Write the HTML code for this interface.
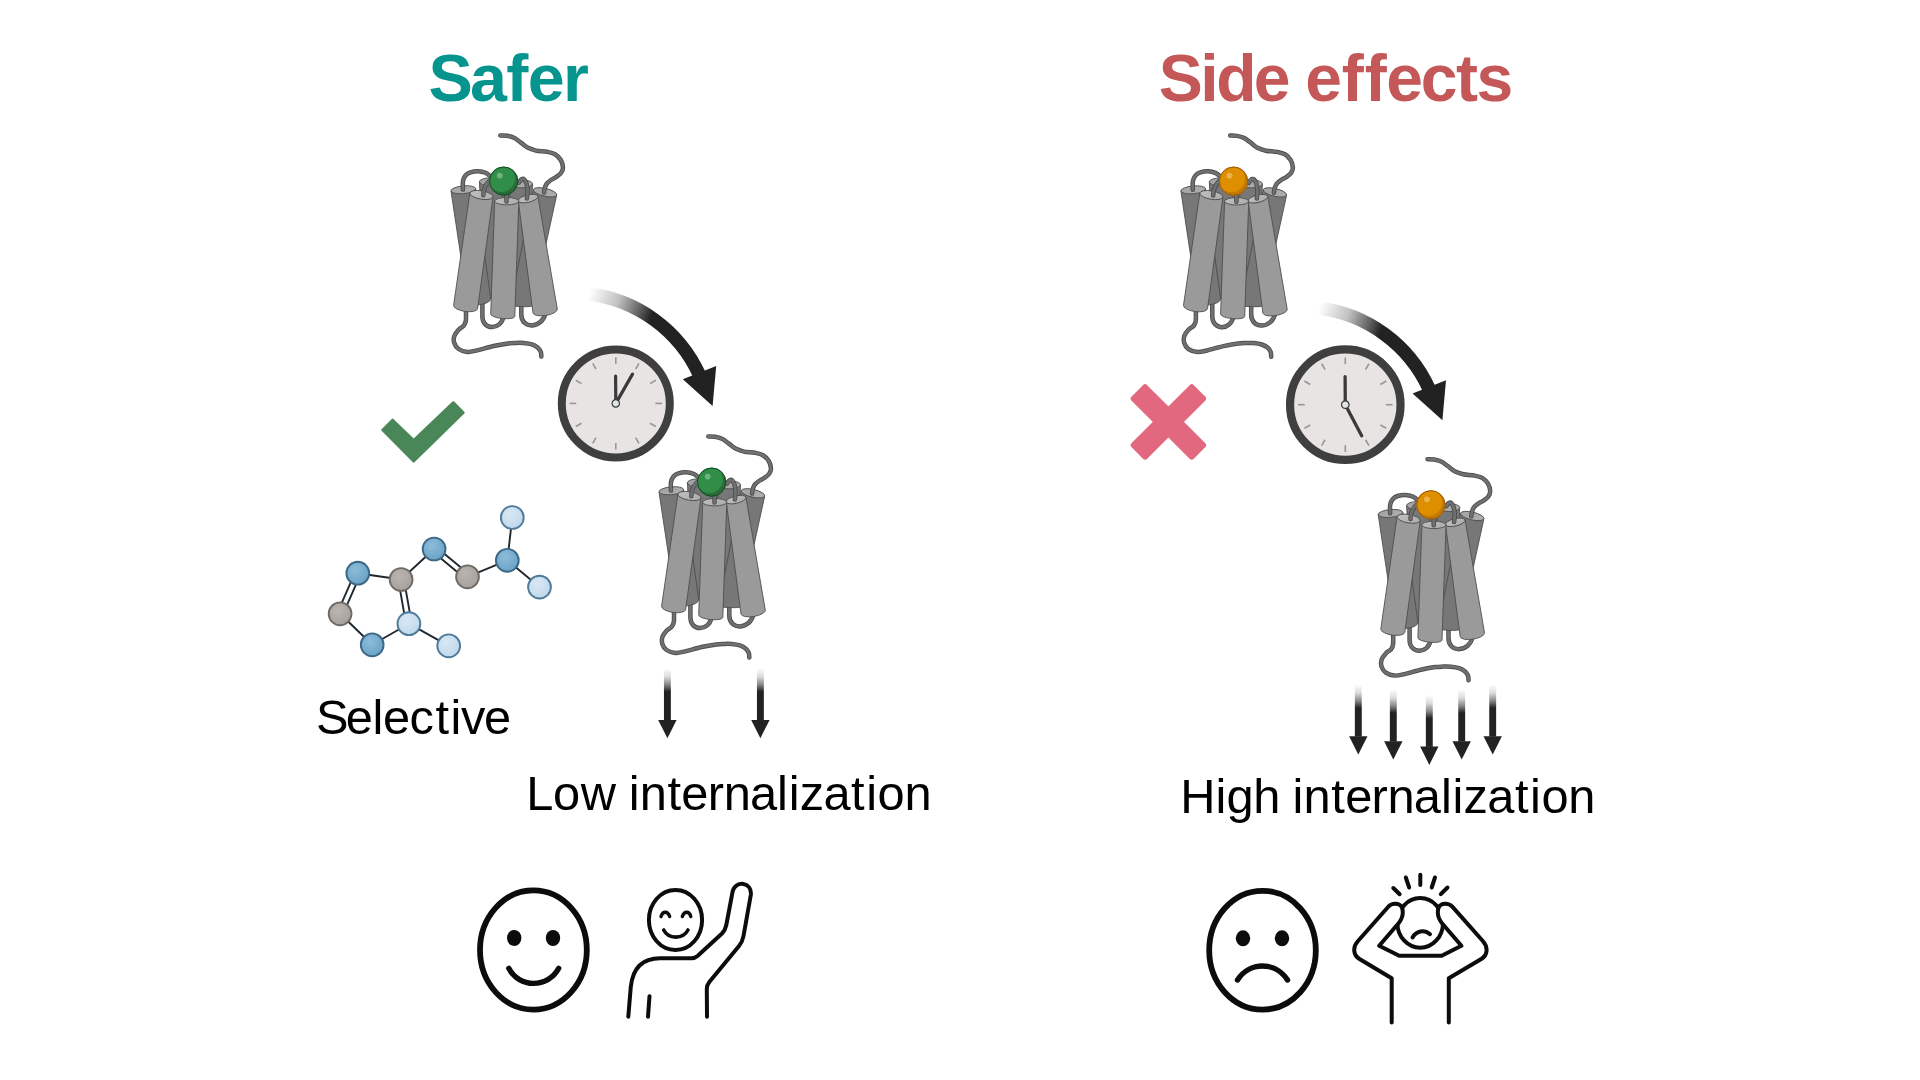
<!DOCTYPE html>
<html lang="en">
<head>
<meta charset="utf-8">
<title>Safer vs Side effects</title>
<style>
html,body{margin:0;padding:0;background:#fff;}
body{width:1920px;height:1080px;overflow:hidden;font-family:"Liberation Sans",sans-serif;}
svg{display:block;position:absolute;left:0;top:0;will-change:transform;}
.t{font-family:"Liberation Sans",sans-serif;}
</style>
</head>
<body>
<svg width="1920" height="1080" viewBox="0 0 1920 1080">
<defs>
  <!-- gradients -->
  <linearGradient id="gArrow" gradientUnits="userSpaceOnUse" x1="588" y1="297" x2="650" y2="320">
    <stop offset="0" stop-color="#222" stop-opacity="0"/>
    <stop offset="0.45" stop-color="#222" stop-opacity="0.28"/>
    <stop offset="0.8" stop-color="#222" stop-opacity="0.72"/>
    <stop offset="1" stop-color="#222" stop-opacity="1"/>
  </linearGradient>
  <linearGradient id="gDown" gradientUnits="objectBoundingBox" x1="0" y1="0" x2="0" y2="1">
    <stop offset="0" stop-color="#222" stop-opacity="0"/>
    <stop offset="0.16" stop-color="#222" stop-opacity="0.16"/>
    <stop offset="0.32" stop-color="#222" stop-opacity="0.56"/>
    <stop offset="0.45" stop-color="#222" stop-opacity="1"/>
    <stop offset="1" stop-color="#222" stop-opacity="1"/>
  </linearGradient>

  <g id="clockface">
    <circle r="54" fill="#e8e4e3" stroke="#3f3f3f" stroke-width="8"/>
    <g stroke="#9b9594" stroke-width="1.6" stroke-linecap="butt"><line x1="0.00" y1="-39.60" x2="0.00" y2="-46.20"/><line x1="19.80" y1="-34.29" x2="23.10" y2="-40.01"/><line x1="34.29" y1="-19.80" x2="40.01" y2="-23.10"/><line x1="39.60" y1="-0.00" x2="46.20" y2="-0.00"/><line x1="34.29" y1="19.80" x2="40.01" y2="23.10"/><line x1="19.80" y1="34.29" x2="23.10" y2="40.01"/><line x1="0.00" y1="39.60" x2="0.00" y2="46.20"/><line x1="-19.80" y1="34.29" x2="-23.10" y2="40.01"/><line x1="-34.29" y1="19.80" x2="-40.01" y2="23.10"/><line x1="-39.60" y1="0.00" x2="-46.20" y2="0.00"/><line x1="-34.29" y1="-19.80" x2="-40.01" y2="-23.10"/><line x1="-19.80" y1="-34.29" x2="-23.10" y2="-40.01"/></g>
  </g>
  <linearGradient id="gTopL" x1="0" y1="0" x2="1" y2="0.6">
    <stop offset="0" stop-color="#c2c2c2"/><stop offset="1" stop-color="#adadad"/>
  </linearGradient>
  <linearGradient id="gTopD" x1="0" y1="0" x2="1" y2="0.6">
    <stop offset="0" stop-color="#a2a2a2"/><stop offset="1" stop-color="#adadad"/>
  </linearGradient>
  <clipPath id="ballclip"><circle cx="0" cy="0" r="14.4"/></clipPath>
  <g id="receptor">
<path d="M482.4 302 L482.4 316.4 C482.4 330.2 501 331.2 503.6 316" fill="none" stroke="#4b4b4b" stroke-width="4.50" stroke-linecap="round" stroke-linejoin="round"/><path d="M482.4 302 L482.4 316.4 C482.4 330.2 501 331.2 503.6 316" fill="none" stroke="#707070" stroke-width="2.80" stroke-linecap="round" stroke-linejoin="round"/>
<path d="M521.3 303 L521.3 314.5 C521.3 329.8 542.5 328.8 545.4 313" fill="none" stroke="#4b4b4b" stroke-width="4.50" stroke-linecap="round" stroke-linejoin="round"/><path d="M521.3 303 L521.3 314.5 C521.3 329.8 542.5 328.8 545.4 313" fill="none" stroke="#707070" stroke-width="2.80" stroke-linecap="round" stroke-linejoin="round"/>
<path d="M465.90 308.00 C465.90 310.05 466.22 317.40 465.90 320.30 C465.58 323.20 465.22 323.83 464.00 325.40 C462.78 326.97 460.20 327.95 458.60 329.70 C457.00 331.45 455.13 333.73 454.40 335.90 C453.67 338.07 453.50 340.52 454.20 342.70 C454.90 344.88 456.40 347.47 458.60 349.00 C460.80 350.53 464.32 351.67 467.40 351.90 C470.48 352.13 472.73 351.38 477.10 350.40 C481.47 349.42 488.42 347.17 493.60 346.00 C498.78 344.83 504.47 343.92 508.20 343.40 C511.93 342.88 513.43 342.97 516.00 342.90 C518.57 342.83 520.97 342.75 523.60 343.00 C526.23 343.25 529.42 343.62 531.80 344.40 C534.18 345.18 536.40 346.45 537.90 347.70 C539.40 348.95 540.23 350.42 540.80 351.90 C541.37 353.38 541.22 355.82 541.30 356.60" fill="none" stroke="#4b4b4b" stroke-width="4.50" stroke-linecap="round" stroke-linejoin="round"/><path d="M465.90 308.00 C465.90 310.05 466.22 317.40 465.90 320.30 C465.58 323.20 465.22 323.83 464.00 325.40 C462.78 326.97 460.20 327.95 458.60 329.70 C457.00 331.45 455.13 333.73 454.40 335.90 C453.67 338.07 453.50 340.52 454.20 342.70 C454.90 344.88 456.40 347.47 458.60 349.00 C460.80 350.53 464.32 351.67 467.40 351.90 C470.48 352.13 472.73 351.38 477.10 350.40 C481.47 349.42 488.42 347.17 493.60 346.00 C498.78 344.83 504.47 343.92 508.20 343.40 C511.93 342.88 513.43 342.97 516.00 342.90 C518.57 342.83 520.97 342.75 523.60 343.00 C526.23 343.25 529.42 343.62 531.80 344.40 C534.18 345.18 536.40 346.45 537.90 347.70 C539.40 348.95 540.23 350.42 540.80 351.90 C541.37 353.38 541.22 355.82 541.30 356.60" fill="none" stroke="#707070" stroke-width="2.80" stroke-linecap="round" stroke-linejoin="round"/>
<path d="M484 184 L530 186 L532 205 L482 205 Z" fill="#777"/>
<path d="M479.40 181.80 L486.00 296.00 A11.00 3.00 0.00 0 0 508.00 296.00 L501.60 181.80 Z" fill="#777777" stroke="#4e4e4e" stroke-width="0.90" stroke-linejoin="round"/><ellipse cx="490.50" cy="181.80" rx="11.10" ry="4.00" transform="rotate(0.00 490.50 181.80)" fill="url(#gTopD)" stroke="#4e4e4e" stroke-width="0.90"/>
<path d="M510.50 183.80 L505.00 303.00 A11.00 3.00 0.00 0 0 527.00 303.00 L532.50 183.80 Z" fill="#777777" stroke="#4e4e4e" stroke-width="0.90" stroke-linejoin="round"/><ellipse cx="521.50" cy="183.80" rx="11.00" ry="4.00" transform="rotate(0.00 521.50 183.80)" fill="url(#gTopD)" stroke="#4e4e4e" stroke-width="0.90"/>
<path d="M533.30 189.60 L510.50 304.50 A11.02 1.50 3.12 0 0 532.50 305.70 L556.70 195.00 Z" fill="#777777" stroke="#4e4e4e" stroke-width="0.90" stroke-linejoin="round"/><ellipse cx="545.00" cy="192.30" rx="12.01" ry="3.90" transform="rotate(12.99 545.00 192.30)" fill="url(#gTopD)" stroke="#4e4e4e" stroke-width="0.90"/>
<path d="M451.00 190.90 L467.50 300.80 A11.65 5.00 -5.42 0 0 490.70 298.60 L475.60 188.60 Z" fill="#777777" stroke="#4e4e4e" stroke-width="0.90" stroke-linejoin="round"/><ellipse cx="463.30" cy="189.75" rx="12.35" ry="3.90" transform="rotate(-5.34 463.30 189.75)" fill="url(#gTopD)" stroke="#4e4e4e" stroke-width="0.90"/>
<path d="M462.90 189.60 C462.92 188.17 462.57 183.35 463.00 181.00 C463.43 178.65 464.25 176.95 465.50 175.50 C466.75 174.05 468.37 173.02 470.50 172.30 C472.63 171.58 475.80 171.12 478.30 171.20 C480.80 171.28 483.47 171.92 485.50 172.80 C487.53 173.68 489.08 175.13 490.50 176.50 C491.92 177.87 493.42 180.25 494.00 181.00" fill="none" stroke="#4b4b4b" stroke-width="4.50" stroke-linecap="round" stroke-linejoin="round"/><path d="M462.90 189.60 C462.92 188.17 462.57 183.35 463.00 181.00 C463.43 178.65 464.25 176.95 465.50 175.50 C466.75 174.05 468.37 173.02 470.50 172.30 C472.63 171.58 475.80 171.12 478.30 171.20 C480.80 171.28 483.47 171.92 485.50 172.80 C487.53 173.68 489.08 175.13 490.50 176.50 C491.92 177.87 493.42 180.25 494.00 181.00" fill="none" stroke="#707070" stroke-width="2.80" stroke-linecap="round" stroke-linejoin="round"/>
<path d="M500.30 135.50 C501.42 135.55 504.73 135.42 507.00 135.80 C509.27 136.18 511.65 136.72 513.90 137.80 C516.15 138.88 518.23 140.67 520.50 142.30 C522.77 143.93 524.92 146.22 527.50 147.60 C530.08 148.98 532.77 149.90 536.00 150.60 C539.23 151.30 543.73 151.20 546.90 151.80 C550.07 152.40 552.68 152.83 555.00 154.20 C557.32 155.57 559.47 157.73 560.80 160.00 C562.13 162.27 562.97 165.63 563.00 167.80 C563.03 169.97 562.05 171.52 561.00 173.00 C559.95 174.48 558.37 175.53 556.70 176.70 C555.03 177.87 552.63 178.87 551.00 180.00 C549.37 181.13 547.93 182.17 546.90 183.50 C545.87 184.83 545.28 186.48 544.80 188.00 C544.32 189.52 544.13 191.83 544.00 192.60" fill="none" stroke="#4b4b4b" stroke-width="4.50" stroke-linecap="round" stroke-linejoin="round"/><path d="M500.30 135.50 C501.42 135.55 504.73 135.42 507.00 135.80 C509.27 136.18 511.65 136.72 513.90 137.80 C516.15 138.88 518.23 140.67 520.50 142.30 C522.77 143.93 524.92 146.22 527.50 147.60 C530.08 148.98 532.77 149.90 536.00 150.60 C539.23 151.30 543.73 151.20 546.90 151.80 C550.07 152.40 552.68 152.83 555.00 154.20 C557.32 155.57 559.47 157.73 560.80 160.00 C562.13 162.27 562.97 165.63 563.00 167.80 C563.03 169.97 562.05 171.52 561.00 173.00 C559.95 174.48 558.37 175.53 556.70 176.70 C555.03 177.87 552.63 178.87 551.00 180.00 C549.37 181.13 547.93 182.17 546.90 183.50 C545.87 184.83 545.28 186.48 544.80 188.00 C544.32 189.52 544.13 191.83 544.00 192.60" fill="none" stroke="#707070" stroke-width="2.80" stroke-linecap="round" stroke-linejoin="round"/>
<path d="M469.90 193.00 L453.60 305.20 A12.12 4.60 8.06 0 0 477.60 308.60 L493.00 197.00 Z" fill="#9a9a9a" stroke="#4e4e4e" stroke-width="0.90" stroke-linejoin="round"/><ellipse cx="481.45" cy="195.00" rx="11.72" ry="4.20" transform="rotate(9.82 481.45 195.00)" fill="url(#gTopL)" stroke="#4e4e4e" stroke-width="0.90"/>
<path d="M518.30 201.00 L533.00 313.00 A12.31 4.60 -9.12 0 0 557.30 309.10 L537.90 196.20 Z" fill="#9a9a9a" stroke="#4e4e4e" stroke-width="0.90" stroke-linejoin="round"/><ellipse cx="528.10" cy="198.60" rx="10.09" ry="3.70" transform="rotate(-13.76 528.10 198.60)" fill="url(#gTopL)" stroke="#4e4e4e" stroke-width="0.90"/>
<path d="M494.70 201.20 L490.70 314.00 A12.11 3.40 5.69 0 0 514.80 316.40 L518.80 201.20 Z" fill="#9a9a9a" stroke="#4e4e4e" stroke-width="0.90" stroke-linejoin="round"/><ellipse cx="506.75" cy="201.20" rx="12.05" ry="3.70" transform="rotate(0.00 506.75 201.20)" fill="url(#gTopL)" stroke="#4e4e4e" stroke-width="0.90"/>
<path d="M483.3 195.3 C483.3 188 485.5 183.5 491 179.5" fill="none" stroke="#4b4b4b" stroke-width="4.50" stroke-linecap="round" stroke-linejoin="round"/><path d="M483.3 195.3 C483.3 188 485.5 183.5 491 179.5" fill="none" stroke="#707070" stroke-width="2.80" stroke-linecap="round" stroke-linejoin="round"/>
<path d="M526.90 198.40 C527.00 197.00 527.60 192.57 527.50 190.00 C527.40 187.43 526.83 184.73 526.30 183.00 C525.77 181.27 524.97 180.28 524.30 179.60 C523.63 178.92 522.92 178.80 522.30 178.90 C521.68 179.00 521.15 179.60 520.60 180.20 C520.05 180.80 519.27 182.12 519.00 182.50" fill="none" stroke="#4b4b4b" stroke-width="4.50" stroke-linecap="round" stroke-linejoin="round"/><path d="M526.90 198.40 C527.00 197.00 527.60 192.57 527.50 190.00 C527.40 187.43 526.83 184.73 526.30 183.00 C525.77 181.27 524.97 180.28 524.30 179.60 C523.63 178.92 522.92 178.80 522.30 178.90 C521.68 179.00 521.15 179.60 520.60 180.20 C520.05 180.80 519.27 182.12 519.00 182.50" fill="none" stroke="#707070" stroke-width="2.80" stroke-linecap="round" stroke-linejoin="round"/>
<path d="M506.5 201.6 L506.5 194" fill="none" stroke="#4b4b4b" stroke-width="4.50" stroke-linecap="round" stroke-linejoin="round"/><path d="M506.5 201.6 L506.5 194" fill="none" stroke="#707070" stroke-width="2.80" stroke-linecap="round" stroke-linejoin="round"/>
  </g>
  <g id="ballG">
    <circle r="14.4" fill="#2d6b3a"/>
    <circle cx="-2.1" cy="-2.5" r="13.4" fill="#318e48" clip-path="url(#ballclip)"/>
    <circle r="14.1" fill="none" stroke="#104d1f" stroke-width="1"/>
    <circle cx="-4" cy="-5.5" r="2.9" fill="#6fb480"/>
  </g>
  <g id="ballO">
    <circle r="14.4" fill="#c37a03"/>
    <circle cx="-2.1" cy="-2.5" r="13.4" fill="#de8f00" clip-path="url(#ballclip)"/>
    <circle r="14.1" fill="none" stroke="#9c5a06" stroke-width="1"/>
    <circle cx="-4" cy="-5.5" r="2.9" fill="#eeb24c"/>
  </g>
  <radialGradient id="gAb" cx="0.4" cy="0.35" r="0.75">
    <stop offset="0" stop-color="#8dbcd9"/><stop offset="1" stop-color="#659fc4"/>
  </radialGradient>
  <radialGradient id="gAg" cx="0.4" cy="0.35" r="0.75">
    <stop offset="0" stop-color="#bab5b1"/><stop offset="1" stop-color="#a39e9a"/>
  </radialGradient>
  <radialGradient id="gAl" cx="0.4" cy="0.35" r="0.75">
    <stop offset="0" stop-color="#d8e8f4"/><stop offset="1" stop-color="#bdd6ea"/>
  </radialGradient>
  
  <g id="darrow">
    <rect x="-3.45" y="0" width="6.9" height="52" fill="url(#gDown)"/>
    <path d="M-9.2 51.6 L9.2 51.6 L0 70 Z" fill="#222"/>
  </g>
  <g id="bigarrow">
    <path d="M589.1 294.0 A140 140 0 0 1 699.4 374.9" fill="none" stroke="url(#gArrow)" stroke-width="13.4"/>
    <path d="M682.8 379.3 L716.2 366 L712.6 406 Z" fill="#222"/>
  </g>
</defs>

<!-- TITLES -->
<text class="t" x="428.56 469.90 506.15 527.74 562.94" y="100.6" font-size="66.43" font-weight="700" fill="#06958e">Safer</text>
<text class="t" x="1158.68 1200.20 1216.13 1253.86 1288.73 1305.20 1341.82 1364.74 1386.23 1420.77 1456.12 1476.49" y="101.3" font-size="66.09" font-weight="700" fill="#c45859">Side effects</text>

<!-- LABELS -->
<text class="t" x="316.00 345.71 372.44 382.88 409.57 435.44 450.50 461.06 483.92" y="734" font-size="48.78" fill="#000">Selective</text>
<text class="t" x="526.27 552.92 580.63 615.49 628.66 639.63 667.55 681.37 707.70 723.67 750.02 777.08 788.77 799.76 823.39 851.11 866.17 877.58 904.56" y="809.5" font-size="48.79" fill="#000">Low internalization</text>
<text class="t" x="1180.22 1215.40 1226.59 1253.33 1279.31 1292.48 1303.44 1331.37 1345.18 1371.51 1387.49 1413.83 1440.90 1452.58 1463.57 1487.20 1514.92 1529.98 1541.39 1568.36" y="813" font-size="48.79" fill="#000">High internalization</text>

<!-- CHECK -->
<path d="M382.4 430 L392.6 419.8 L413.7 440.2 L453.3 402.4 L463.5 412.6 L413.7 461.3 Z" fill="#4a8758" stroke="#4a8758" stroke-width="2.4" stroke-linejoin="round"/>

<!-- XMARK -->
<g transform="translate(1168.4 421.9)" fill="#e2687f">
  <rect x="-44" y="-11" width="88" height="22" rx="3" transform="rotate(45)"/>
  <rect x="-44" y="-11" width="88" height="22" rx="3" transform="rotate(-45)"/>
</g>

<!-- BIG ARROWS -->
<use href="#bigarrow"/>
<use href="#bigarrow" transform="translate(729.8 14.2)"/>

<!-- CLOCK 1 -->
<g transform="translate(615.8 403.4)">
  <use href="#clockface"/>
  <g stroke="#3a3a3a" stroke-width="3.2" stroke-linecap="round">
    <line x1="0" y1="0" x2="-0.2" y2="-27.4"/>
    <line x1="0" y1="0" x2="16.7" y2="-29.3"/>
  </g>
  <circle r="3.7" fill="#e0e4e4" stroke="#3a3a3a" stroke-width="1.2"/>
</g>
<!-- CLOCK 2 -->
<g transform="translate(1345.3 404.7) scale(1.023)">
  <use href="#clockface"/>
  <g stroke="#3a3a3a" stroke-width="3.2" stroke-linecap="round">
    <line x1="0" y1="0" x2="-0.2" y2="-27.4"/>
    <line x1="0" y1="0" x2="16" y2="30.4"/>
  </g>
  <circle r="3.7" fill="#e0e4e4" stroke="#3a3a3a" stroke-width="1.2"/>
</g>

<!-- DOWN ARROWS -->
<use href="#darrow" transform="translate(667.4 668.3)"/>
<use href="#darrow" transform="translate(760.4 668.3)"/>
<use href="#darrow" transform="translate(1358.3 684.6)"/>
<use href="#darrow" transform="translate(1393.3 689.6)"/>
<use href="#darrow" transform="translate(1429.3 694.9)"/>
<use href="#darrow" transform="translate(1461.7 689.6)"/>
<use href="#darrow" transform="translate(1492.7 684.6)"/>

<!-- RECEPTORS -->
<g>
  <use href="#receptor"/>
  <use href="#ballG" transform="translate(503.7 181.1)"/>
</g>
<g transform="translate(208 301)">
  <use href="#receptor"/>
  <use href="#ballG" transform="translate(503.7 181.1)"/>
</g>
<g transform="translate(729.9 0.1)">
  <use href="#receptor"/>
  <use href="#ballO" transform="translate(503.7 181.1)"/>
</g>
<g transform="translate(927.2 323.7)">
  <use href="#receptor"/>
  <use href="#ballO" transform="translate(503.7 181.1)"/>
</g>
<!-- MOLECULE -->
<g id="molecule">
<g stroke="#1e282e" stroke-width="1.9" stroke-linecap="round">
<line x1="357.8" y1="573.2" x2="401.1" y2="579.5"/>
<line x1="401.1" y1="579.5" x2="434.1" y2="549.0"/>
<line x1="467.5" y1="576.8" x2="507.3" y2="560.3"/>
<line x1="507.3" y1="560.3" x2="512.3" y2="517.5"/>
<line x1="507.3" y1="560.3" x2="539.5" y2="587.1"/>
<line x1="340.1" y1="613.8" x2="372.2" y2="644.8"/>
<line x1="372.2" y1="644.8" x2="408.9" y2="623.7"/>
<line x1="408.9" y1="623.7" x2="448.7" y2="645.8"/>
<line x1="355.2" y1="572.1" x2="337.5" y2="612.7"/>
<line x1="360.4" y1="574.3" x2="342.7" y2="614.9"/>
<line x1="398.3" y1="580.0" x2="406.1" y2="624.2"/>
<line x1="403.8" y1="579.0" x2="411.7" y2="623.2"/>
<line x1="432.3" y1="551.2" x2="465.7" y2="579.0"/>
<line x1="435.9" y1="546.8" x2="469.3" y2="574.6"/>
</g>
<circle cx="357.8" cy="573.2" r="11.4" fill="url(#gAb)" stroke="#3c6785" stroke-width="1.9"/>
<circle cx="401.1" cy="579.5" r="11.4" fill="url(#gAg)" stroke="#6e6a66" stroke-width="1.9"/>
<circle cx="434.1" cy="549.0" r="11.4" fill="url(#gAb)" stroke="#3c6785" stroke-width="1.9"/>
<circle cx="467.5" cy="576.8" r="11.4" fill="url(#gAg)" stroke="#6e6a66" stroke-width="1.9"/>
<circle cx="507.3" cy="560.3" r="11.4" fill="url(#gAb)" stroke="#3c6785" stroke-width="1.9"/>
<circle cx="512.3" cy="517.5" r="11.4" fill="url(#gAl)" stroke="#4f7b99" stroke-width="1.9"/>
<circle cx="539.5" cy="587.1" r="11.4" fill="url(#gAl)" stroke="#4f7b99" stroke-width="1.9"/>
<circle cx="340.1" cy="613.8" r="11.4" fill="url(#gAg)" stroke="#6e6a66" stroke-width="1.9"/>
<circle cx="372.2" cy="644.8" r="11.4" fill="url(#gAb)" stroke="#3c6785" stroke-width="1.9"/>
<circle cx="408.9" cy="623.7" r="11.4" fill="url(#gAl)" stroke="#4f7b99" stroke-width="1.9"/>
<circle cx="448.7" cy="645.8" r="11.4" fill="url(#gAl)" stroke="#4f7b99" stroke-width="1.9"/>
</g>
<!-- /MOLECULE -->
<!-- FACES -->
<g fill="none" stroke="#0c0c0c" stroke-linecap="round" stroke-linejoin="round">
  <!-- smiley -->
  <ellipse cx="533.4" cy="950" rx="53.4" ry="59.6" stroke-width="5.8"/>
  <ellipse cx="514.2" cy="938" rx="7.2" ry="8" fill="#0c0c0c" stroke="none"/>
  <ellipse cx="553" cy="938" rx="7.2" ry="8" fill="#0c0c0c" stroke="none"/>
  <path d="M508.8 968.3 C519 988.4 548 988.4 558.7 968.3" stroke-width="5.4"/>
  <!-- happy person -->
  <ellipse cx="675.5" cy="920" rx="26.6" ry="30" stroke-width="4"/>
  <path d="M661 916.6 C662.5 910.8 668 910.8 669.7 916.6" stroke-width="3.4"/>
  <path d="M682.3 916.6 C684 910.8 689.5 910.8 690.8 916.6" stroke-width="3.4"/>
  <path d="M663.7 930 C668.5 939.5 683 939.5 688 930" stroke-width="3.6"/>
  <path d="M628.3 1016.7 L630.8 986.7 C633 967 643 958.3 660 958.3 L691.7 958.3 C694 958.3 695.5 957.7 697.5 956 L722 933.5 C724.5 931 725.5 929 726.3 925 L732.6 891.7 C735 880 752.5 881.5 750.8 895 L743.5 936 C742.8 940 741.5 943 739 946 L709.5 981.8 C707.3 984.5 706.8 986 706.8 989 L707 1016.7" stroke-width="4"/>
  <path d="M649.5 996.2 L648 1016.7" stroke-width="4"/>
  <!-- sad face -->
  <ellipse cx="1262.5" cy="950.2" rx="53.3" ry="59.4" stroke-width="5.8"/>
  <ellipse cx="1243" cy="938.3" rx="7.2" ry="8" fill="#0c0c0c" stroke="none"/>
  <ellipse cx="1282" cy="938.3" rx="7.2" ry="8" fill="#0c0c0c" stroke="none"/>
  <path d="M1237.5 980 C1249 961.4 1276 961.4 1287.5 980" stroke-width="5.4"/>
  <!-- distressed person -->
  <g stroke-width="4">
    <line x1="1393.3" y1="888" x2="1399.7" y2="894.2"/>
    <line x1="1405.8" y1="877.5" x2="1409.2" y2="887.5"/>
    <line x1="1420.3" y1="874.7" x2="1420.3" y2="885"/>
    <line x1="1435" y1="877.5" x2="1431.7" y2="887.5"/>
    <line x1="1447.5" y1="887.5" x2="1440.8" y2="894.2"/>
  </g>
  <ellipse cx="1420.2" cy="922.9" rx="22.8" ry="24.8" stroke-width="4"/>
  <path d="M1412.5 937.5 C1416 931 1424 929 1430 934.2" stroke-width="4"/>
  <path d="M1391.7 1022.5 L1391.7 978.3 L1359.5 959 C1353 955 1352.5 947 1358 941 L1388.3 906.7 C1392.5 902.2 1399.5 903.3 1401.6 906.8 C1403.3 909.8 1403 915.5 1401.6 918.2 C1400.8 920 1400 921.5 1398.6 923.2 L1379.2 945.8 L1399.2 955.8 L1441.7 955.8 L1461.4 945.8 L1442 923.2 C1440.6 921.5 1439.8 920 1439 918.2 C1437.6 915.5 1437.3 909.8 1439 906.8 C1441.1 903.3 1448.1 902.2 1452.3 906.7 L1482.8 941 C1488.3 947 1487.8 955 1481.3 959 L1448.8 978.3 L1448.8 1022.5" stroke-width="4" fill="#fff"/>
</g>


</svg>
</body>
</html>
